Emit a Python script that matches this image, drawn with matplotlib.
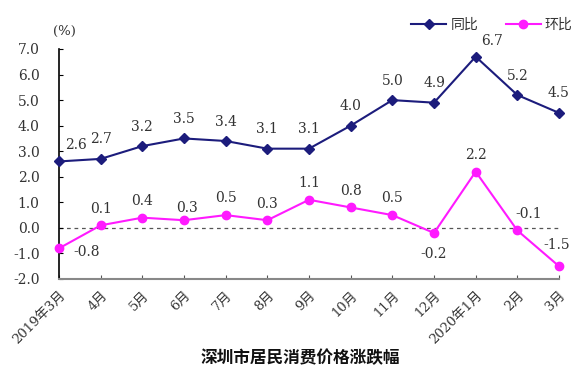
import matplotlib
matplotlib.use("Agg")
import matplotlib.pyplot as plt

categories = ["2019年3月", "4月", "5月", "6月", "7月", "8月", "9月", "10月", "11月", "12月", "2020年1月", "2月", "3月"]
yoy = [2.6, 2.7, 3.2, 3.5, 3.4, 3.1, 3.1, 4.0, 5.0, 4.9, 6.7, 5.2, 4.5]
mom = [-0.8, 0.1, 0.4, 0.3, 0.5, 0.3, 1.1, 0.8, 0.5, -0.2, 2.2, -0.1, -1.5]
yticks = [-2.0, -1.0, 0.0, 1.0, 2.0, 3.0, 4.0, 5.0, 6.0, 7.0]

FAM = ["DejaVu Serif", "Noto Sans CJK SC", "DejaVu Sans"]
plt.rcParams["font.family"] = FAM

fig = plt.figure(figsize=(5.87, 3.83), dpi=100)
ax = fig.add_axes([59/587, 1-279/383, 500/587, 230/383])
x = list(range(len(categories)))

navy = "#1c1c7c"
mag = "#ff1aff"
ax.plot(x, yoy, color=navy, lw=1.5, marker="D", ms=5, label="同比", clip_on=False, zorder=3)
ax.plot(x, mom, color=mag, lw=1.5, marker="o", ms=6, label="环比", clip_on=False, zorder=3)
ax.axhline(0, color="#555555", lw=0.9, ls=(0, (3, 3)), zorder=1)

ax.set_xlim(0, 12)
ax.set_ylim(-2, 7)
ax.set_yticks(yticks)
ax.set_yticklabels([f"{v:.1f}" for v in yticks], fontsize=10, color="#333333")
ax.set_xticks(x)
ax.set_xticklabels(categories, rotation=45, ha="right", rotation_mode="anchor", fontsize=9.5, color="#333333")
ax.tick_params(axis="y", direction="in", length=3, pad=14, color="black")
ax.tick_params(axis="x", direction="in", length=3, pad=7, color="#555555")
for s in ["top", "right"]:
    ax.spines[s].set_visible(False)
ax.spines["left"].set_color("black")
ax.spines["left"].set_linewidth(1.2)
ax.spines["bottom"].set_color("#888888")
ax.spines["bottom"].set_linewidth(1.5)

tc = "#333333"
fs = 10
yoy_off = {0: (12, 7), 10: (12, 6)}
for i, v in enumerate(yoy):
    dx, dy = yoy_off.get(i, (0, 9))
    ax.annotate(f"{v:.1f}", (i, v), xytext=(dx, dy), textcoords="offset points",
                ha="center", va="bottom", fontsize=fs, color=tc)
mom_off = {0: (20, -3), 3: (2, 4), 9: (0, -10), 11: (8, 7), 12: (-2, 10)}
for i, v in enumerate(mom):
    dx, dy = mom_off.get(i, (0, 7))
    if i == 0:
        va = "center"
    else:
        va = "top" if dy < 0 else "bottom"
    ax.annotate(f"{v:.1f}", (i, v), xytext=(dx, dy), textcoords="offset points",
                ha="center", va=va, fontsize=fs, color=tc)

fig.text(64/587, 1-31/383, "(%)", fontsize=9.5, color=tc, ha="center", va="center")
leg = fig.legend(loc="center", bbox_to_anchor=(492/587, 1-25/383), ncol=2, frameon=False,
                 fontsize=10, handlelength=2.5, columnspacing=2.0, handletextpad=0.3,
                 labelcolor=tc)
fig.text(300/587, 1-359/383, "深圳市居民消费价格涨跌幅", fontsize=12, fontweight="bold",
         ha="center", va="center", color="#111111")

fig.savefig("out.png", dpi=100)
